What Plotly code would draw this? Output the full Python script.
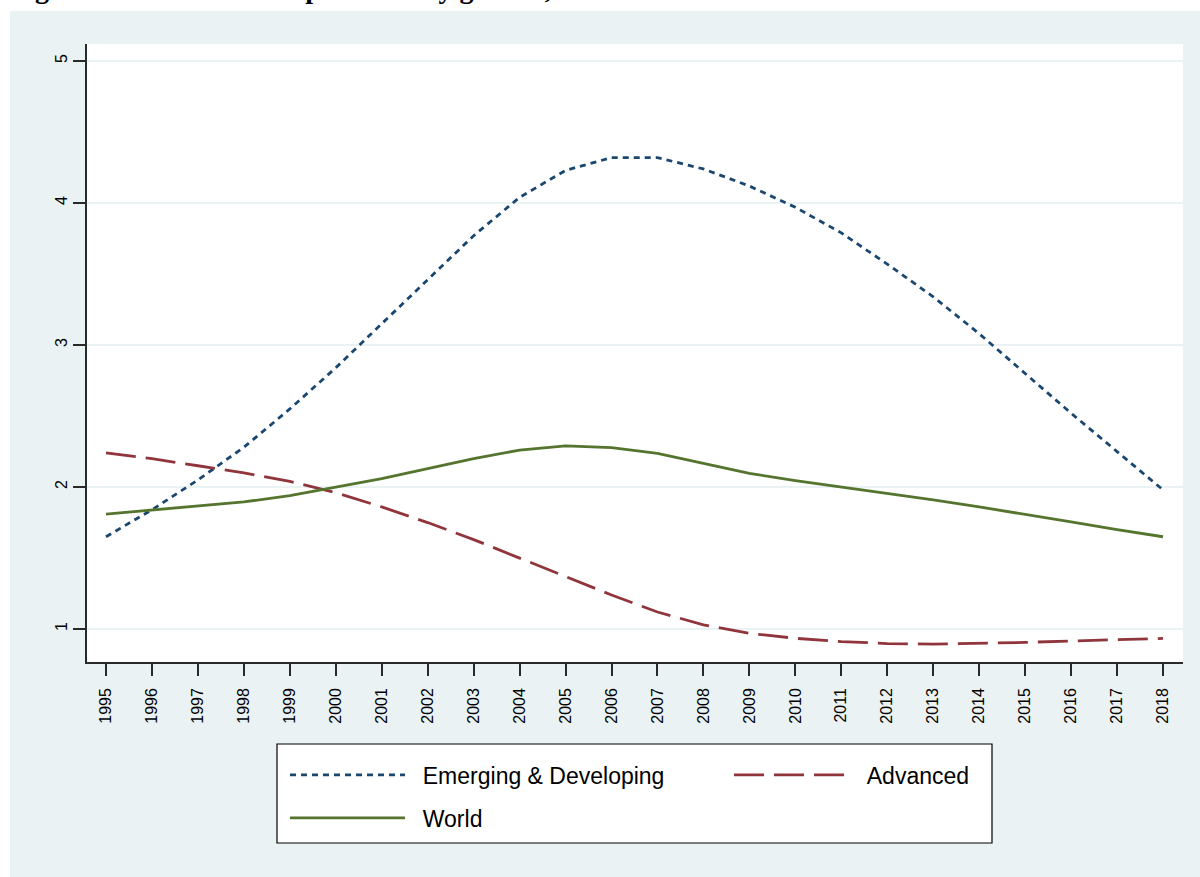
import plotly.graph_objects as go

years = list(range(1995, 2019))
emerging = [1.65, 1.84, 2.05, 2.28, 2.55, 2.84, 3.15, 3.46, 3.77, 4.04, 4.23, 4.32,
            4.32, 4.24, 4.12, 3.97, 3.79, 3.57, 3.34, 3.08, 2.80, 2.52, 2.25, 1.98]
advanced = [2.24, 2.20, 2.15, 2.10, 2.04, 1.96, 1.86, 1.75, 1.63, 1.50, 1.37, 1.24,
            1.12, 1.03, 0.97, 0.935, 0.912, 0.898, 0.894, 0.898, 0.906, 0.916, 0.925, 0.934]
world = [1.81, 1.84, 1.865, 1.895, 1.94, 2.0, 2.06, 2.13, 2.20, 2.26, 2.29, 2.277,
         2.237, 2.167, 2.097, 2.045, 2.0, 1.958, 1.91, 1.86, 1.81, 1.755, 1.70, 1.65]
series_names = ["Emerging & Developing", "Advanced", "World"]
y_ticks = [1, 2, 3, 4, 5]
title_text = "Figure 5: Trend in labor productivity growth, 1995-2018"

W, H = 1200, 877
ML, MR, MT, MB = 87, 17, 44, 215
PW, PH = W - ML - MR, H - MT - MB


def px_x(p):
    return (p - ML) / PW


def px_y(p):
    return (MT + PH - p) / PH


BG = "#eaf2f3"
NAVY = "#1a476f"
MAROON = "#90353b"
GREEN = "#55752f"
AX = "#2a2a2a"
PAD = "\u00a0\u00a0"

fig = go.Figure()
fig.add_trace(go.Scatter(x=years, y=emerging, mode="lines", name=PAD + series_names[0],
                         line=dict(color=NAVY, width=2.8, dash="6px,5px"),
                         legend="legend"))
fig.add_trace(go.Scatter(x=years, y=advanced, mode="lines", name=PAD + series_names[1],
                         line=dict(color=MAROON, width=2.8, dash="30px,10px"),
                         legend="legend"))
fig.add_trace(go.Scatter(x=years, y=world, mode="lines", name=PAD + series_names[2],
                         line=dict(color=GREEN, width=2.8),
                         legend="legend2"))

shapes = [
    # white strips around the light background
    dict(type="rect", xref="paper", yref="paper", x0=px_x(0), x1=px_x(W),
         y0=px_y(11), y1=px_y(0), fillcolor="white", line=dict(width=0), layer="below"),
    dict(type="rect", xref="paper", yref="paper", x0=px_x(0), x1=px_x(10),
         y0=px_y(H), y1=px_y(0), fillcolor="white", line=dict(width=0), layer="below"),
    # legend box
    dict(type="rect", xref="paper", yref="paper", x0=px_x(277), x1=px_x(992),
         y0=px_y(843), y1=px_y(744), fillcolor="white",
         line=dict(color="black", width=1.2), layer="below"),
]

leg_common = dict(orientation="h", bgcolor="rgba(0,0,0,0)", borderwidth=0,
                  font=dict(family="Liberation Sans, Arial, sans-serif", size=23, color="black"),
                  itemwidth=115, xanchor="left", yanchor="middle", itemclick=False)

fig.update_layout(
    width=W, height=H,
    margin=dict(l=ML, r=MR, t=MT, b=MB, pad=0),
    paper_bgcolor=BG, plot_bgcolor="white",
    shapes=shapes,
    font=dict(family="Liberation Sans, Arial, sans-serif", color="black"),
    legend=dict(**leg_common, x=px_x(285), y=px_y(775), entrywidth=314),
    legend2=dict(**leg_common, x=px_x(285), y=px_y(818)),
    annotations=[dict(text="<b>" + title_text + "</b>", xref="paper", yref="paper",
                      x=px_x(8), y=px_y(6), xanchor="left", yanchor="bottom",
                      showarrow=False,
                      font=dict(family="Liberation Serif, Times New Roman, serif",
                                size=28, color="black"))],
)

fig.update_xaxes(range=[1994.587, 2018.435], tickmode="array", tickvals=years,
                 ticktext=[str(y) for y in years], tickangle=-90,
                 ticks="outside", ticklen=12, tickwidth=1.5, tickcolor=AX,
                 showline=True, linecolor=AX, linewidth=1.5, showgrid=False,
                 zeroline=False, tickfont=dict(size=16, color="black"),
                 ticklabelstandoff=6)
fig.update_yaxes(range=[0.768, 5.12], tickmode="array", tickvals=y_ticks,
                 ticktext=[str(v) for v in y_ticks], tickangle=-90,
                 ticks="outside", ticklen=12, tickwidth=1.5, tickcolor=AX,
                 showline=True, linecolor=AX, linewidth=1.5, showgrid=True,
                 gridcolor=BG, gridwidth=1.5, zeroline=False,
                 tickfont=dict(size=16, color="black"), ticklabelstandoff=0)

fig.write_html("out.html")
